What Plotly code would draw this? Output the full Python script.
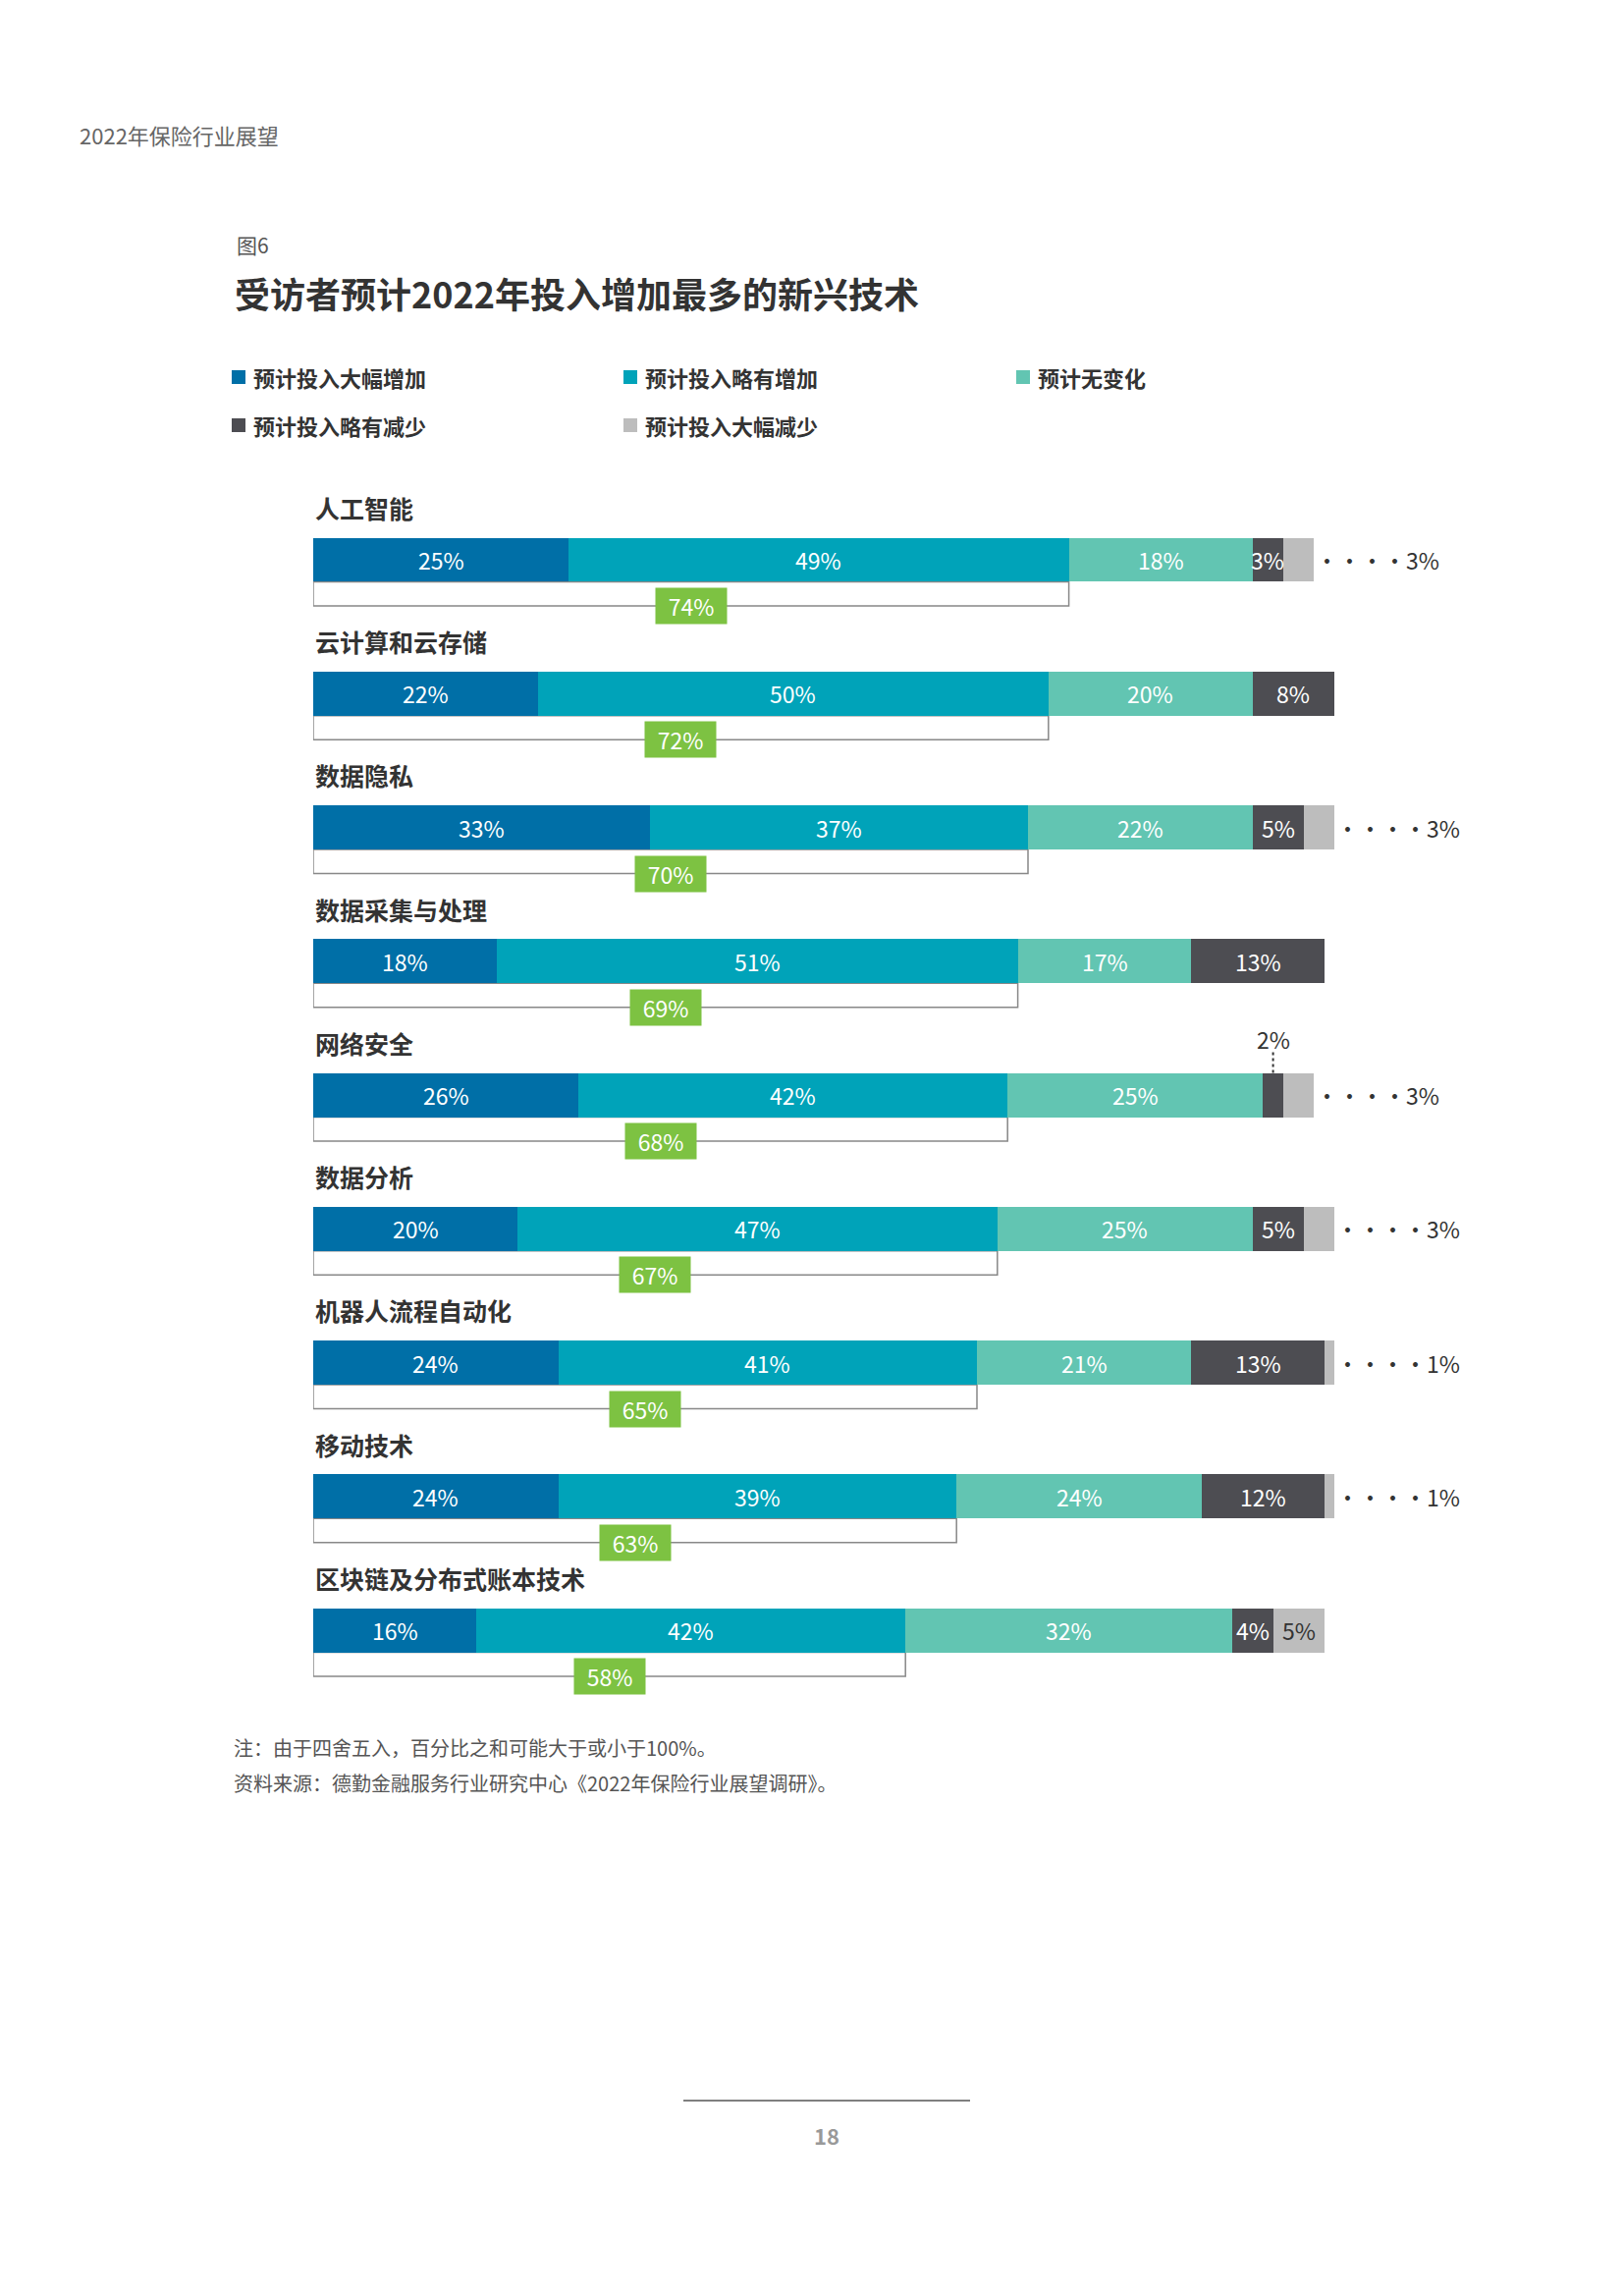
import plotly.graph_objects as go
import numpy as np

techs = ["人工智能", "云计算和云存储", "数据隐私", "数据采集与处理", "网络安全",
         "数据分析", "机器人流程自动化", "移动技术", "区块链及分布式账本技术"]
series = ["预计投入大幅增加", "预计投入略有增加", "预计无变化", "预计投入略有减少", "预计投入大幅减少"]
big_up = [25, 22, 33, 18, 26, 20, 24, 24, 16]
small_up = [49, 50, 37, 51, 42, 47, 41, 39, 42]
no_change = [18, 20, 22, 17, 25, 25, 21, 24, 32]
small_down = [3, 8, 5, 13, 2, 5, 13, 12, 4]
big_down = [3, 1, 3, 0, 3, 3, 1, 1, 5]
totals = [74, 72, 70, 69, 68, 67, 65, 63, 58]
colors = ["#006FA7", "#00A3B9", "#62C5B2", "#4D4D52", "#BDBDBD"]

FONT = "Noto Sans CJK SC"
W, H = 1653, 2338
vals = [big_up, small_up, no_change, small_down, big_down]
ys = [-i for i in range(len(techs))]
BH = 0.33

fig = go.Figure()
for name, v, c in zip(series, vals, colors):
    fig.add_trace(go.Bar(x=v, y=ys, orientation="h", marker=dict(color=c, line_width=0),
                         width=BH, name=name, showlegend=False, hoverinfo="skip"))

ann = []
shapes = []
for i, y in enumerate(ys):
    row = [v[i] for v in vals]
    cum = np.cumsum([0] + row)
    for k, val in enumerate(row):
        if val == 0:
            continue
        mid = (cum[k] + cum[k + 1]) / 2
        if k < 3 or (k == 3 and val >= 3):
            ann.append(dict(x=mid, y=y, text=f"{val}%", showarrow=False,
                            font=dict(color="white", size=23, family=FONT)))
        elif k == 4 and val >= 4:
            ann.append(dict(x=mid, y=y, text=f"{val}%", showarrow=False,
                            font=dict(color="#333", size=23, family=FONT)))
        elif k == 4:
            ann.append(dict(x=cum[k + 1], y=y, text="····" + f"{val}%", showarrow=False,
                            xanchor="left", font=dict(color="#333", size=23, family=FONT)))
        else:
            ann.append(dict(x=mid, y=y + 0.42, text=f"{val}%", showarrow=False,
                            font=dict(color="#333", size=23, family=FONT)))
            shapes.append(dict(type="line", x0=mid, x1=mid, y0=y + 0.32, y1=y + BH / 2,
                               line=dict(color="#333", width=2, dash="dot")))
    # category label
    ann.append(dict(x=0, y=y + 0.39, text=f"<b>{techs[i]}</b>", showarrow=False,
                    xanchor="left", font=dict(color="#333", size=25, family=FONT)))
    # bracket box
    shapes.append(dict(type="rect", x0=0, x1=totals[i], y0=y - BH / 2 - 0.18, y1=y - BH / 2,
                       line=dict(color="#888", width=1.5), fillcolor="rgba(0,0,0,0)", layer="below"))
    # green total label
    ann.append(dict(x=totals[i] / 2, y=y - BH / 2 - 0.18, text=f"{totals[i]}%", showarrow=False,
                    bgcolor="#7DC242", width=70, height=34,
                    font=dict(color="white", size=23, family=FONT)))

def ptext(x, y, text, size, color="#333", **kw):
    ann.append(dict(xref="paper", yref="paper", x=x / W, y=1 - y / H, text=text, showarrow=False,
                    xanchor="left", yanchor="middle", font=dict(size=size, color=color, family=FONT), **kw))

ptext(71, 129, "2022年保险行业展望", 22, "#666")
ptext(231, 241, "图6", 21, "#555")
ptext(229, 290, "<b>受访者预计2022年投入增加最多的新兴技术</b>", 36, "#333")
leg_pos = [(228, 376), (627, 376), (1027, 376), (228, 425), (627, 425)]
for (lx, ly), name, c in zip(leg_pos, series, colors):
    shapes.append(dict(type="rect", xref="paper", yref="paper", x0=lx / W, x1=(lx + 14) / W,
                       y0=1 - (ly + 7) / H, y1=1 - (ly - 7) / H, fillcolor=c, line_width=0))
    ptext(lx + 20, ly, f"<b>{name}</b>", 22, "#333")
ptext(228, 1771, "注：由于四舍五入，百分比之和可能大于或小于100%。", 20, "#555")
ptext(228, 1807, "资料来源：德勤金融服务行业研究中心《2022年保险行业展望调研》。", 20, "#555")
shapes.append(dict(type="line", xref="paper", yref="paper", x0=688 / W, x1=980 / W,
                   y0=1 - 2131 / H, y1=1 - 2131 / H, line=dict(color="#555", width=1.5)))
ann.append(dict(xref="paper", yref="paper", x=834 / W, y=1 - 2184 / H, text="<b>18</b>",
                showarrow=False, font=dict(size=22, color="#999", family=FONT)))

fig.update_layout(
    width=W, height=H, barmode="stack", bargap=0,
    margin=dict(l=0, r=0, t=0, b=0),
    plot_bgcolor="white", paper_bgcolor="white",
    xaxis=dict(range=[0, 100], domain=[311 / W, 1351 / W], visible=False),
    yaxis=dict(range=[-9.086, 1.923], domain=[1 - 1800 / H, 1 - 300 / H], visible=False),
    annotations=ann, shapes=shapes, font=dict(family=FONT),
)
fig.write_html("out.html")
